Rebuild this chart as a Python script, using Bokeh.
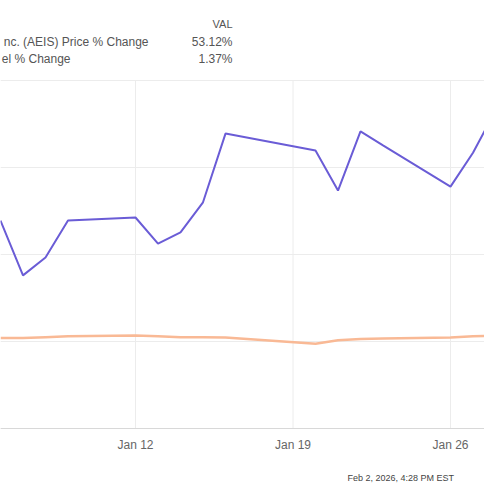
from datetime import datetime, timedelta
from bokeh.plotting import figure
from bokeh.models import ColumnDataSource, Label, FixedTicker, Range1d, Span
from bokeh.core.properties import value
from bokeh.embed import file_html
from bokeh.resources import INLINE

# ---- data ----
dates = ["2026-01-06", "2026-01-07", "2026-01-08", "2026-01-09", "2026-01-12",
         "2026-01-13", "2026-01-14", "2026-01-15", "2026-01-16", "2026-01-20",
         "2026-01-21", "2026-01-22", "2026-01-23", "2026-01-26", "2026-01-27",
         "2026-01-28"]
aeis_pct = [27.8, 15.2, 19.3, 27.8, 28.5, 22.5, 25.1, 32.0, 47.8, 43.9,
            34.7, 48.3, 45.1, 35.6, 43.4, 53.12]
spx_pct = [0.8, 0.8, 1.0, 1.2, 1.4, 1.2, 1.0, 1.0, 0.9, -0.5,
           0.3, 0.6, 0.7, 0.9, 1.2, 1.37]
y_ticks = [-20, 0, 20, 40, 60]
tick_dates = ["2026-01-12", "2026-01-19", "2026-01-26"]
tick_labels = ["Jan 12", "Jan 19", "Jan 26"]
# legend texts as visible in the (cropped) reference
series_names = ["nc. (AEIS) Price % Change", "el % Change"]
series_vals = ["53.12%", "1.37%"]
footer_text = "Feb 2, 2026, 4:28 PM EST"

# ---- layout constants (pixels of the reference) ----
W = H = 484
REF_DATE = datetime(2026, 1, 12)
REF_PX = 135.0
PX_PER_DAY = 22.5
Y_TOP, Y_BOT = 60.0, -20.0
PY_TOP, PY_BOT = 80.0, 428.0

def px_to_date(px):
    return REF_DATE + timedelta(days=(px - REF_PX) / PX_PER_DAY)

def py_to_val(py):
    return Y_TOP - (py - PY_TOP) * (Y_TOP - Y_BOT) / (PY_BOT - PY_TOP)

x = [datetime.strptime(d, "%Y-%m-%d") for d in dates]
src = ColumnDataSource(dict(x=x, a=aeis_pct, s=spx_pct))
tx = [datetime.strptime(d, "%Y-%m-%d") for d in tick_dates]

p = figure(width=W, height=H, x_axis_type="datetime", output_backend="svg",
           toolbar_location=None,
           x_range=Range1d(px_to_date(0), px_to_date(W)),
           y_range=Range1d(py_to_val(H), py_to_val(0)),
           min_border=0)
p.outline_line_color = None
p.background_fill_color = "white"
p.border_fill_color = "white"
p.xaxis.visible = False
p.yaxis.visible = False
p.xgrid.visible = False

# horizontal grid
p.ygrid.ticker = FixedTicker(ticks=y_ticks)
p.ygrid.grid_line_color = "#ececec"
p.ygrid.grid_line_width = 1

# vertical grid (from bottom to top of the value range only)
p.segment(x0=tx, y0=[min(y_ticks)] * len(tx), x1=tx, y1=[max(y_ticks)] * len(tx),
          line_color="#ececec", line_width=1)

# x axis base line
p.add_layout(Span(location=min(y_ticks), dimension="width",
                  line_color="#d8d8d8", line_width=1))

# series
p.line("x", "s", source=src, line_color="#f9b995", line_width=2.5)
p.line("x", "a", source=src, line_color="#6a5cd6", line_width=2)

# tick labels
p.text(x=tx, y=[py_to_val(444)] * len(tx), text=tick_labels,
       text_align="center", text_baseline="middle",
       text_font=value("Liberation Sans"), text_font_size="12px",
       text_color="#666666")

def add_label(text, px, py, align, size="12px", color="#555555"):
    p.add_layout(Label(x=px_to_date(px), y=py_to_val(py), text=text,
                       text_align=align, text_baseline="middle",
                       text_font="Liberation Sans", text_font_size=size,
                       text_color=color))

add_label("VAL", 232, 23, "right", "11px")
add_label(series_names[0], 148, 41, "right")
add_label(series_vals[0], 232, 41, "right")
add_label(series_names[1], 70, 58, "right")
add_label(series_vals[1], 232, 58, "right")
add_label(footer_text, 347, 477, "left", "9px", "#444444")

open("out.html", "w").write(file_html(p, INLINE))
